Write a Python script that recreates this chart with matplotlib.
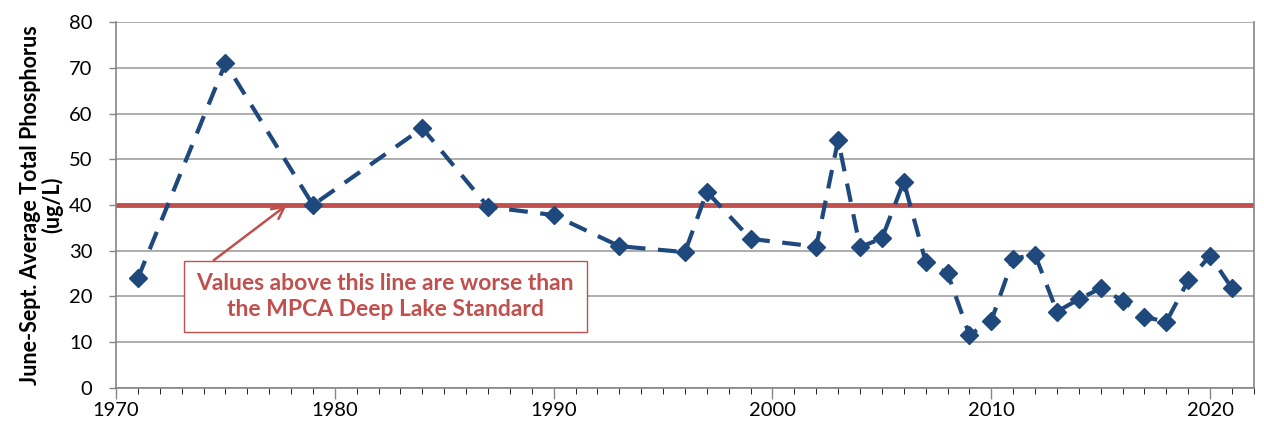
import matplotlib
matplotlib.use('Agg')
import matplotlib.pyplot as plt
from matplotlib.ticker import MultipleLocator

plt.rcParams['font.family'] = ['Lato', 'DejaVu Sans']

years = [1971, 1975, 1979, 1984, 1987, 1990, 1993, 1996, 1997, 1999,
         2002, 2003, 2004, 2005, 2006, 2007, 2008, 2009, 2010, 2011,
         2012, 2013, 2014, 2015, 2016, 2017, 2018, 2019, 2020, 2021]
tp = [24.0, 71.0, 40.0, 56.8, 39.6, 37.8, 31.0, 29.7, 42.9, 32.6,
      30.9, 54.2, 30.8, 32.7, 45.1, 27.6, 25.1, 11.6, 14.7, 28.3,
      29.1, 16.7, 19.4, 21.8, 19.1, 15.5, 14.5, 23.5, 28.9, 21.8]
standard = 40
note = 'Values above this line are worse than\nthe MPCA Deep Lake Standard'

blue = '#1F497D'
red = '#C0504D'
grey = '#868686'

fig = plt.figure(figsize=(12.64, 4.32), dpi=100)
ax = fig.add_axes([0.0918, 0.1019, 0.9002, 0.8471])

ax.set_xlim(1970, 2022)
ax.set_ylim(0, 80)
ax.yaxis.set_major_locator(MultipleLocator(10))
ax.xaxis.set_major_locator(MultipleLocator(10))
ax.xaxis.set_minor_locator(MultipleLocator(1))
ax.grid(axis='y', color='#A0A0A0', lw=1.2, zorder=0)
ax.set_axisbelow(True)
for s in ax.spines.values():
    s.set_color(grey)
    s.set_linewidth(1.2)
ax.spines['top'].set_visible(False)
ax.tick_params(axis='both', colors=grey, labelcolor='black', labelsize=14.5, width=1)
ax.tick_params(axis='x', which='major', length=8, pad=2)
ax.tick_params(axis='x', which='minor', length=4)
ax.tick_params(axis='y', length=5, pad=12)

ax.axhline(standard, color=red, lw=3.5, zorder=2)
ax.plot(years, tp, color=blue, lw=3, dashes=(4.5, 3), marker='D', ms=9.5,
        zorder=5, clip_on=False)

ax.set_ylabel('June-Sept. Average Total Phosphorus\n(ug/L)', fontsize=15.5,
              fontweight='bold', labelpad=4, linespacing=1.0)

ax.annotate(note, xy=(1977.8, standard), xytext=(1982.3, 20.0),
            ha='center', va='center', fontsize=16.5, fontweight='bold', color=red,
            linespacing=1.25,
            bbox=dict(boxstyle='square,pad=0.55', fc='white', ec=red, lw=1),
            arrowprops=dict(arrowstyle='->', color=red, lw=1.8,
                            mutation_scale=22, shrinkA=0, shrinkB=0,
                            relpos=(0, 1)),
            zorder=4)

fig.savefig('out.png', dpi=100)
